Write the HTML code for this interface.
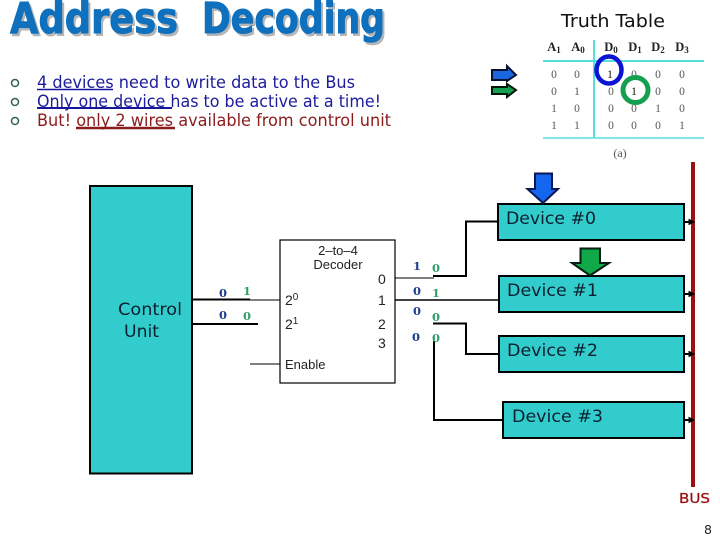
<!DOCTYPE html>
<html>
<head>
<meta charset="utf-8">
<style>
html,body{margin:0;padding:0;background:#fff;width:720px;height:540px;overflow:hidden}
svg{display:block}
text{font-family:"DejaVu Sans","Liberation Sans",sans-serif}
.dev{font-size:16.5px;fill:#0a2030}
.bl{font-family:"DejaVu Serif","Liberation Serif",serif;font-size:11.5px;font-weight:bold;fill:#1f3d8f;text-anchor:middle}
.gr{font-family:"DejaVu Serif","Liberation Serif",serif;font-size:11.5px;font-weight:bold;fill:#2f9e6a;text-anchor:middle}
.dec{font-family:"Liberation Sans",sans-serif;font-size:14px;fill:#222}
.tt{font-family:"Liberation Serif",serif;font-size:11.5px;fill:#555;text-anchor:middle}
.th{font-family:"Liberation Serif",serif;font-size:12.5px;font-weight:bold;fill:#222;text-anchor:middle}
.bul{fill:none;stroke:#2f5f55;stroke-width:1.5}
.cy{fill:#33cccc;stroke:#000;stroke-width:2}
.w{stroke:#000;stroke-width:2;fill:none}
.t{stroke:#000;stroke-width:1;fill:none}
</style>
</head>
<body>
<svg width="720" height="540" viewBox="0 0 720 540" xmlns="http://www.w3.org/2000/svg">
<rect width="720" height="540" fill="#fff"/>

<!-- Title -->
<g font-size="43" font-weight="bold" stroke-width="1" stroke-linejoin="round">
<text x="12" y="35.5" fill="#b5b5b5" stroke="#b5b5b5" textLength="168" lengthAdjust="spacingAndGlyphs">Address</text>
<text x="204" y="35.5" fill="#b5b5b5" stroke="#b5b5b5" textLength="183" lengthAdjust="spacingAndGlyphs">Decoding</text>
<text x="10" y="33" fill="#0f70bd" stroke="#0f70bd" textLength="168" lengthAdjust="spacingAndGlyphs">Address</text>
<text x="202" y="33" fill="#0f70bd" stroke="#0f70bd" textLength="183" lengthAdjust="spacingAndGlyphs">Decoding</text>
</g>

<!-- Bullets -->
<circle cx="15" cy="83" r="3.5" class="bul"/>
<circle cx="15" cy="102" r="3.5" class="bul"/>
<circle cx="15" cy="121" r="3.5" class="bul"/>
<text x="37" y="88" font-size="16.5" fill="#1c1c9c" textLength="318" lengthAdjust="spacingAndGlyphs">4 devices need to write data to the Bus</text>
<text x="37" y="107" font-size="16.5" fill="#1c1c9c" textLength="344" lengthAdjust="spacingAndGlyphs">Only one device has to be active at a time!</text>
<text x="37" y="126" font-size="16.5" fill="#8c1c1c" textLength="354" lengthAdjust="spacingAndGlyphs">But! only 2 wires available from control unit</text>
<line x1="37" y1="89.5" x2="113" y2="89.5" stroke="#16169a" stroke-width="1.5"/>
<line x1="37" y1="108" x2="172" y2="108" stroke="#16169a" stroke-width="2"/>
<line x1="76" y1="128" x2="175" y2="128" stroke="#8c1c1c" stroke-width="2.5"/>

<!-- Small arrows -->
<polygon points="492,70 507,70 507,66 516,75 507,81 507,80 492,80" fill="#1a66e0" stroke="#08122e" stroke-width="2"/>
<polygon points="492,87 507,87 507,84 516,90 507,97 507,94 492,94" fill="#14a050" stroke="#04160a" stroke-width="2"/>

<!-- Truth table -->
<text x="561" y="27" font-size="17.5" fill="#111" textLength="104" lengthAdjust="spacingAndGlyphs">Truth Table</text>
<text class="th" x="554" y="51">A<tspan font-size="9" dy="2">1</tspan></text>
<text class="th" x="578" y="51">A<tspan font-size="9" dy="2">0</tspan></text>
<text class="th" x="611" y="51">D<tspan font-size="9" dy="2">0</tspan></text>
<text class="th" x="635" y="51">D<tspan font-size="9" dy="2">1</tspan></text>
<text class="th" x="658" y="51">D<tspan font-size="9" dy="2">2</tspan></text>
<text class="th" x="682" y="51">D<tspan font-size="9" dy="2">3</tspan></text>
<line x1="543" y1="61" x2="704" y2="61" stroke="#55dfe0" stroke-width="2"/>
<line x1="594" y1="40" x2="594" y2="138" stroke="#55dfe0" stroke-width="2"/>
<line x1="543" y1="138" x2="704" y2="138" stroke="#55dfe0" stroke-width="1.5"/>
<g>
<text class="tt" x="554" y="78">0</text><text class="tt" x="577" y="78">0</text><text class="tt" x="610" y="78" style="fill:#111">1</text><text class="tt" x="634" y="78">0</text><text class="tt" x="658" y="78">0</text><text class="tt" x="682" y="78">0</text>
<text class="tt" x="554" y="95">0</text><text class="tt" x="577" y="95">1</text><text class="tt" x="611" y="95">0</text><text class="tt" x="634" y="95" style="fill:#111">1</text><text class="tt" x="658" y="95">0</text><text class="tt" x="682" y="95">0</text>
<text class="tt" x="554" y="112">1</text><text class="tt" x="577" y="112">0</text><text class="tt" x="611" y="112">0</text><text class="tt" x="634" y="112">0</text><text class="tt" x="658" y="112">1</text><text class="tt" x="682" y="112">0</text>
<text class="tt" x="554" y="129">1</text><text class="tt" x="577" y="129">1</text><text class="tt" x="611" y="129">0</text><text class="tt" x="634" y="129">0</text><text class="tt" x="658" y="129">0</text><text class="tt" x="682" y="129">1</text>
<text class="tt" x="620" y="157" style="font-size:12px">(a)</text>
</g>
<ellipse cx="609" cy="70" rx="12.5" ry="13.5" fill="none" stroke="#0a14d2" stroke-width="4.5"/>
<ellipse cx="635.5" cy="90" rx="12.5" ry="12.5" fill="none" stroke="#14a050" stroke-width="5"/>

<!-- Control Unit -->
<rect x="90" y="186" width="102" height="287.5" class="cy"/>
<text x="118" y="315" font-size="17" fill="#0a2030" textLength="64" lengthAdjust="spacingAndGlyphs">Control</text>
<text x="124" y="337" font-size="17" fill="#0a2030" textLength="35" lengthAdjust="spacingAndGlyphs">Unit</text>

<!-- Input wires -->
<line x1="192" y1="299.5" x2="250" y2="299.5" class="w"/>
<line x1="250" y1="300" x2="280" y2="300" class="t"/>
<line x1="192" y1="324" x2="258" y2="324" class="w"/>
<line x1="250" y1="364" x2="280" y2="364" class="t"/>

<!-- Decoder -->
<rect x="280" y="240" width="115" height="143" fill="#fff" stroke="#000" stroke-width="1.2"/>
<text class="dec" x="338" y="255" text-anchor="middle" style="font-size:13px">2–to–4</text>
<text class="dec" x="338" y="269" text-anchor="middle" style="font-size:13px">Decoder</text>
<text class="dec" x="378" y="284">0</text>
<text class="dec" x="378" y="305">1</text>
<text class="dec" x="378" y="329">2</text>
<text class="dec" x="378" y="348">3</text>
<text class="dec" x="285" y="305">2<tspan font-size="10" dy="-5">0</tspan></text>
<text class="dec" x="285" y="329">2<tspan font-size="10" dy="-5">1</tspan></text>
<text class="dec" x="285" y="369" style="font-size:13px">Enable</text>

<!-- Output wires -->
<line x1="395" y1="278" x2="434" y2="278" class="t"/>
<polyline points="433,276 466,276 466,221.5 498,221.5" class="w"/>
<line x1="395" y1="300" x2="499" y2="300" stroke="#000" stroke-width="1.5"/>
<polyline points="433,323.5 466,323.5 466,354 499,354" class="w"/>
<polyline points="434,341 434,420 503,420" class="w"/>

<!-- Bits -->
<text class="bl" x="223" y="297">0</text><text class="gr" x="247" y="295">1</text>
<text class="bl" x="223" y="319">0</text><text class="gr" x="247" y="320">0</text>
<text class="bl" x="417" y="270">1</text><text class="gr" x="436" y="272">0</text>
<text class="bl" x="417" y="295">0</text><text class="gr" x="436" y="297">1</text>
<text class="bl" x="417" y="315">0</text><text class="gr" x="436" y="321">0</text>
<text class="bl" x="416" y="341">0</text><text class="gr" x="436" y="342">0</text>

<!-- Bus -->
<rect x="691" y="162" width="4" height="325" fill="#9b1010"/>
<text x="679" y="503" font-size="13.5" fill="#9b1010" stroke="#9b1010" stroke-width="0.3" textLength="31" lengthAdjust="spacingAndGlyphs">BUS</text>
<text x="704" y="534" font-size="12.5" fill="#222">8</text>

<!-- Devices -->
<rect x="498" y="204" width="186" height="36" class="cy"/>
<text class="dev" x="506" y="224" textLength="90" lengthAdjust="spacingAndGlyphs">Device #0</text>
<rect x="499" y="276" width="185" height="36" class="cy"/>
<text class="dev" x="507" y="296" textLength="91" lengthAdjust="spacingAndGlyphs">Device #1</text>
<rect x="499" y="336" width="185" height="36" class="cy"/>
<text class="dev" x="507" y="356" textLength="91" lengthAdjust="spacingAndGlyphs">Device #2</text>
<rect x="503" y="402" width="181" height="36" class="cy"/>
<text class="dev" x="512" y="422" textLength="91" lengthAdjust="spacingAndGlyphs">Device #3</text>

<!-- Bus stubs -->
<g fill="#000" stroke="#000">
<line x1="685" y1="222" x2="690" y2="222" stroke-width="2"/><polygon points="689,219.5 694,222 689,224.5"/>
<line x1="685" y1="294" x2="690" y2="294" stroke-width="2"/><polygon points="689,291.5 694,294 689,296.5"/>
<line x1="685" y1="354" x2="690" y2="354" stroke-width="2"/><polygon points="689,351.5 694,354 689,356.5"/>
<line x1="685" y1="420" x2="690" y2="420" stroke-width="2"/><polygon points="689,417.5 694,420 689,422.5"/>
</g>

<!-- Down arrows -->
<polygon points="535,173.5 552,173.5 552,189 558,189 543,203 527.5,189 535,189" fill="#1466ee" stroke="#0a1a50" stroke-width="2"/>
<polygon points="580.5,248.5 600,248.5 600,263 609,263 590,275.5 572,263 580.5,263" fill="#10a848" stroke="#06200f" stroke-width="2"/>
</svg>
</body>
</html>
